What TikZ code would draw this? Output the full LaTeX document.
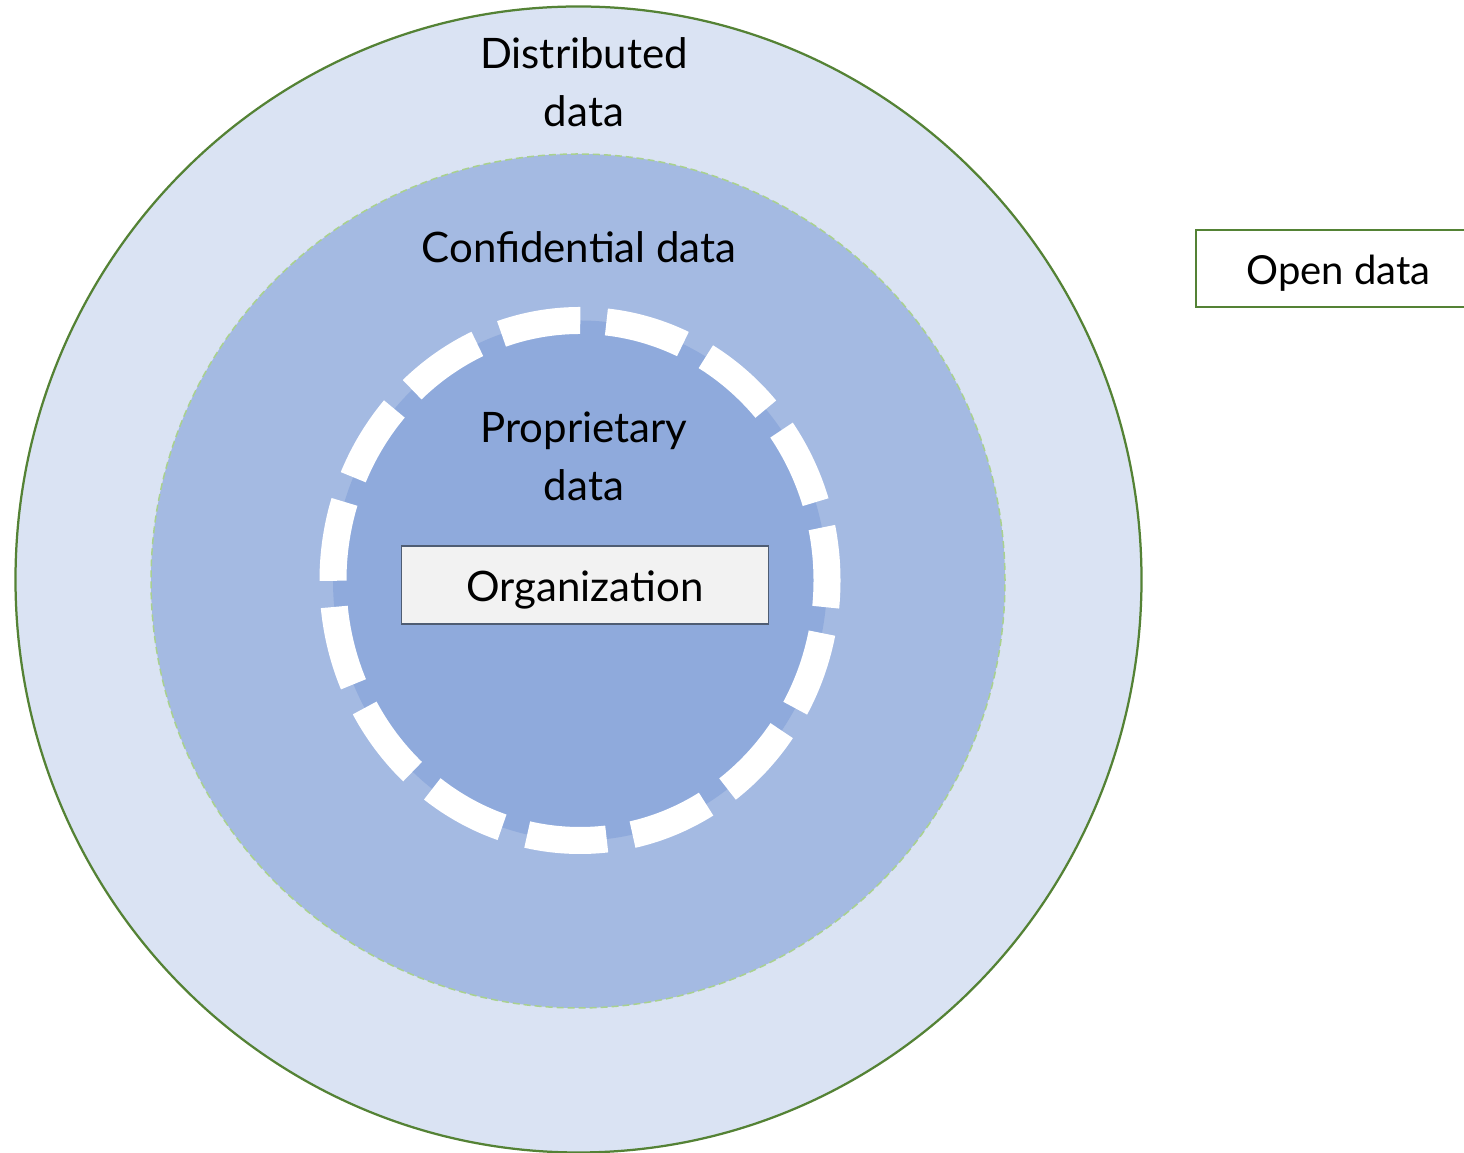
\documentclass[tikz,border=0pt]{standalone}
\usepackage{fontspec}
\setmainfont{Lato}
\definecolor{outerfill}{HTML}{DAE3F3}
\definecolor{midfill}{HTML}{A4BAE2}
\definecolor{innerfill}{HTML}{8FAADC}
\definecolor{darkgreen}{HTML}{548235}
\definecolor{lightgreen}{HTML}{A9D18E}
\definecolor{orgfill}{HTML}{F2F2F2}
\definecolor{orgline}{HTML}{4F5D73}
\begin{document}
\begin{tikzpicture}[x=1pt,y=1pt,
  lbl/.style={font=\fontsize{42}{58}\selectfont, inner sep=0pt, align=center},
  boxnode/.style={draw, font=\fontsize{42}{58}\selectfont, inner sep=0pt}]
\useasboundingbox (0,0) rectangle (1464,1153);
\clip (0,0) rectangle (1464,1153);
% outer ellipse: distributed data
\path[fill=outerfill, draw=darkgreen, line width=2.25pt] (578.5,573.5) ellipse [x radius=563, y radius=573];
% middle circle: confidential data
\path[fill=midfill, draw=lightgreen, line width=1.5pt, dash pattern=on 7pt off 4pt] (578,572) ellipse [x radius=427, y radius=427];
% inner circle: proprietary data
\path[fill=innerfill] (580,572.5) ellipse [x radius=247, y radius=260];
\draw[white, line width=27pt, dash pattern=on 80pt off 26.2pt] (580,832.5) arc [start angle=90, end angle=450, x radius=247, y radius=260];
% labels
\node[lbl] (dist) at (584,1071) {Distributed\\data};
\node[lbl, anchor=base] (conf) at (579,890) {Confidential data};
\node[lbl] (prop) at (584,697) {Proprietary\\data};
\node[boxnode, fill=orgfill, draw=orgline, line width=1.5pt, minimum width=367pt, minimum height=78pt, text height=36pt, text depth=2pt] (org) at (585,568) {Organization};
\node[boxnode, draw=darkgreen, line width=2pt, minimum width=285pt, minimum height=77pt, text height=35pt, text depth=2pt, font=\fontsize{40}{50}\selectfont] (open) at (1338.5,884.5) {Open data};
\end{tikzpicture}
\end{document}
